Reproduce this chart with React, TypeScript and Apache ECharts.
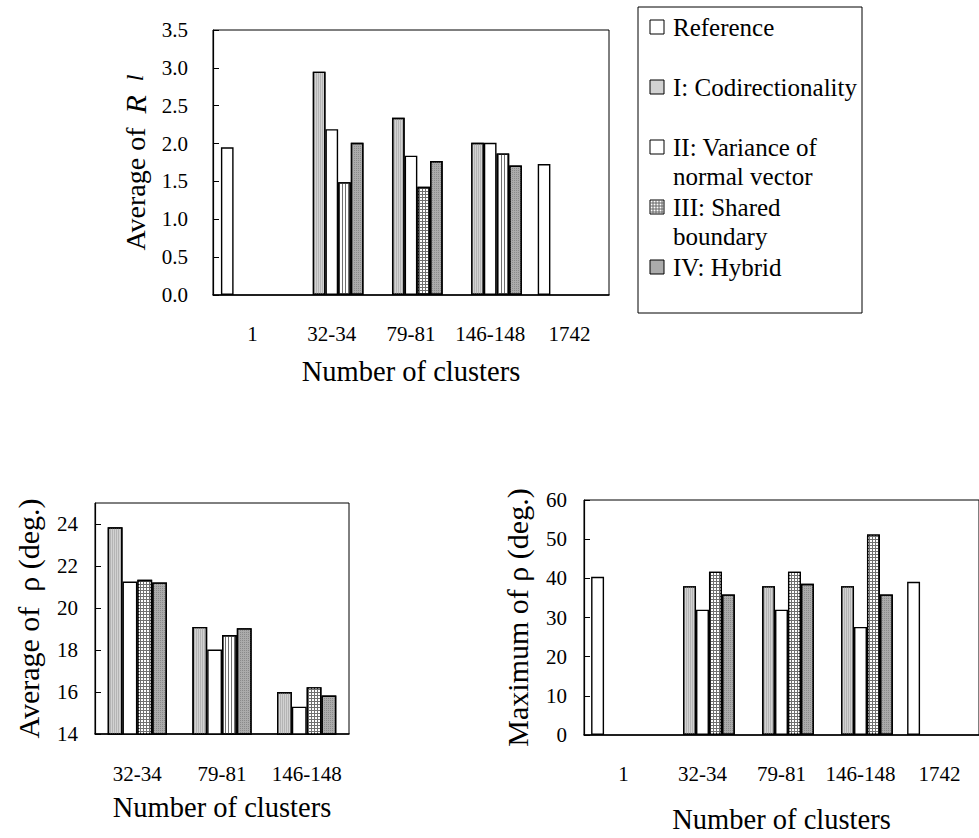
import React, { useEffect, useRef } from "react";
import * as echarts from "echarts";

// ---------- data ----------
const seriesNames = [
  "Reference",
  "I: Codirectionality",
  "II: Variance of normal vector",
  "III: Shared boundary",
  "IV: Hybrid",
];
const legendLines = [
  ["Reference"],
  ["I: Codirectionality"],
  ["II: Variance of", "normal vector"],
  ["III: Shared", "boundary"],
  ["IV: Hybrid"],
];

const clustersAll = ["1", "32-34", "79-81", "146-148", "1742"];
const clustersMid = ["32-34", "79-81", "146-148"];

// Average of R_l
const r1Reference = [1.95, null, null, null, 1.73];
const r1I = [null, 2.95, 2.34, 2.01, null];
const r1II = [null, 2.19, 1.84, 2.01, null];
const r1III = [null, 1.49, 1.43, 1.87, null];
const r1IV = [null, 2.01, 1.77, 1.71, null];
const r1Ticks = { min: 0, max: 3.5, interval: 0.5 };

// Average of rho
const avgI = [23.84, 19.1, 16.0];
const avgII = [21.26, 18.02, 15.3];
const avgIII = [21.34, 18.71, 16.23];
const avgIV = [21.22, 19.04, 15.83];
const avgTicks = { min: 14, max: 25, interval: 2 };

// Maximum of rho
const maxReference = [40.4, null, null, null, 39.1];
const maxI = [null, 38, 38, 38, null];
const maxII = [null, 32, 32, 27.6, null];
const maxIII = [null, 41.7, 41.7, 51.2, null];
const maxIV = [null, 35.9, 38.6, 35.9, null];
const maxTicks = { min: 0, max: 60, interval: 10 };

// hatch style per bar of series III (style only)
const r1IIIPattern = ["", "lines", "grid", "lines", ""];
const avgIIIPattern = ["grid", "lines", "grid"];
const maxIIIPattern = ["", "grid", "grid", "grid", ""];

// ---------- styles ----------
const FONT = '"Liberation Serif", "Times New Roman", serif';

const decalGrid = {
  symbol: "rect",
  symbolSize: 1,
  dashArrayX: [2, 1],
  dashArrayY: [2, 1],
  color: "#ffffff",
};
const decalLines = {
  symbol: "rect",
  symbolSize: 1,
  dashArrayX: [1, 2],
  dashArrayY: [2, 0],
  color: "#707070",
};
const decalI = {
  symbol: "rect",
  symbolSize: 1,
  dashArrayX: [1, 1],
  dashArrayY: [2, 0],
  color: "#b4b4b4",
};
const decalIV = {
  symbol: "rect",
  symbolSize: 1,
  dashArrayX: [1, 1],
  dashArrayY: [1, 1],
  color: "#8a8a8a",
};

const border = { borderColor: "#000", borderWidth: 1.4 };
const styleRef = { color: "#ffffff", ...border };
const styleI = { color: "#d2d2d2", decal: decalI, ...border };
const styleII = { color: "#ffffff", ...border };
const styleIV = { color: "#ababab", decal: decalIV, ...border };

function patternStyle(p: string) {
  if (p === "grid") return { color: "#707070", decal: decalGrid, ...border };
  return { color: "#ffffff", decal: decalLines, ...border };
}

function withPattern(values: (number | null)[], patterns: string[]) {
  return values.map((v, i) =>
    v === null ? null : { value: v, itemStyle: patternStyle(patterns[i]) }
  );
}

function xAxisFor(grid: number, cats: string[], nameGap: number, margin: number) {
  return {
    type: "category",
    gridIndex: grid,
    data: cats,
    name: "Number of clusters",
    nameLocation: "middle",
    nameGap,
    nameTextStyle: { fontFamily: FONT, fontSize: 28.5, color: "#000" },
    axisLine: { lineStyle: { color: "#000", width: 1.5 } },
    axisTick: { inside: true, length: 7, lineStyle: { color: "#000" } },
    axisLabel: { fontFamily: FONT, fontSize: 21, color: "#000", margin, interval: 0 },
    splitLine: { show: false },
  };
}

function yAxisFor(
  grid: number,
  ticks: { min: number; max: number; interval: number },
  name: string,
  nameGap: number,
  margin: number,
  fmt: (v: number) => string,
  fontSize: number,
  rich?: any
) {
  return {
    type: "value",
    gridIndex: grid,
    min: ticks.min,
    max: ticks.max,
    interval: ticks.interval,
    name,
    nameLocation: "middle",
    nameGap,
    nameRotate: 90,
    nameTextStyle: { fontFamily: FONT, fontSize, color: "#000", rich },
    axisLine: { show: true, lineStyle: { color: "#000", width: 1.2 } },
    axisTick: { show: true, inside: true, length: 6, lineStyle: { color: "#000" } },
    axisLabel: {
      fontFamily: FONT,
      fontSize: 21,
      color: "#000",
      margin,
      showMaxLabel: ticks.max % ticks.interval === 0,
      formatter: fmt,
    },
    splitLine: { show: false },
  };
}

function bar(name: string, xi: number, data: any[], itemStyle: any, gap: string) {
  return {
    type: "bar",
    name,
    xAxisIndex: xi,
    yAxisIndex: xi,
    data,
    itemStyle,
    barGap: "0%",
    barCategoryGap: gap,
    emphasis: { disabled: true },
  };
}

function legendGraphic() {
  const boxX = 638;
  const boxY = 7;
  const markerX = 650;
  const textX = 673;
  const size = 14;
  const lineH = 29;
  const children: any[] = [
    {
      type: "rect",
      shape: { x: boxX, y: boxY, width: 224, height: 306 },
      style: { fill: "#fff", stroke: "#000", lineWidth: 1 },
    },
  ];
  const fills = ["#ffffff", "#d2d2d2", "#ffffff", "#ffffff", "#ababab"];
  seriesNames.forEach((_, i) => {
    const cy = 27 + 60 * i;
    const my = cy - size / 2;
    children.push({
      type: "rect",
      shape: { x: markerX, y: my, width: size, height: size },
      style: { fill: fills[i], stroke: "#000", lineWidth: 1 },
    });
    if (i === 3) {
      for (let k = 3; k < size; k += 3) {
        children.push({
          type: "line",
          shape: { x1: markerX + k, y1: my, x2: markerX + k, y2: my + size },
          style: { stroke: "#666", lineWidth: 1 },
        });
        children.push({
          type: "line",
          shape: { x1: markerX, y1: my + k, x2: markerX + size, y2: my + k },
          style: { stroke: "#666", lineWidth: 1 },
        });
      }
    }
    legendLines[i].forEach((line, j) => {
      children.push({
        type: "text",
        style: {
          text: line,
          x: textX,
          y: cy + j * lineH,
          fontFamily: FONT,
          fontSize: 25,
          fill: "#000",
          verticalAlign: "middle",
          align: "left",
        },
      });
    });
  });
  return [{ type: "group", children }];
}

export default function App() {
  const ref = useRef<HTMLDivElement>(null);
  useEffect(() => {
    document.body.style.margin = "0";
    if (!ref.current) return;
    const chart = echarts.init(ref.current, null, { renderer: "svg" });
    const option: any = {
      animation: false,
      backgroundColor: "#fff",
      textStyle: { fontFamily: FONT },
      grid: [
        { left: 213, top: 30, width: 396, height: 265, show: true, borderColor: "#000", borderWidth: 1 },
        { left: 95, top: 503, width: 254, height: 231, show: true, borderColor: "#000", borderWidth: 1 },
        { left: 584, top: 500, width: 399, height: 235, show: true, borderColor: "#000", borderWidth: 1 },
      ],
      xAxis: [
        xAxisFor(0, clustersAll, 62, 28),
        xAxisFor(1, clustersMid, 59, 29),
        xAxisFor(2, clustersAll, 70, 28),
      ],
      yAxis: [
        yAxisFor(0, r1Ticks, "Average of  {i|R}{g| }{s|l}", 63, 25, (v) => v.toFixed(1), 28, {
          i: { fontFamily: FONT, fontSize: 30, fontStyle: "italic", color: "#000" },
          g: { fontFamily: FONT, fontSize: 20, width: 14 },
          s: { fontFamily: FONT, fontSize: 24, fontStyle: "italic", color: "#000" },
        }),
        yAxisFor(1, avgTicks, "Average of  ρ (deg.)", 52, 17, (v) => String(v), 30),
        yAxisFor(2, maxTicks, "Maximum of ρ (deg.)", 52, 17, (v) => String(v), 30),
      ],
      series: [
        bar(seriesNames[0], 0, r1Reference, styleRef, "20%"),
        bar(seriesNames[1], 0, r1I, styleI, "20%"),
        bar(seriesNames[2], 0, r1II, styleII, "20%"),
        bar(seriesNames[3], 0, withPattern(r1III, r1IIIPattern), { ...border }, "20%"),
        bar(seriesNames[4], 0, r1IV, styleIV, "20%"),

        bar(seriesNames[1], 1, avgI, styleI, "30%"),
        bar(seriesNames[2], 1, avgII, styleII, "30%"),
        bar(seriesNames[3], 1, withPattern(avgIII, avgIIIPattern), { ...border }, "30%"),
        bar(seriesNames[4], 1, avgIV, styleIV, "30%"),

        bar(seriesNames[0], 2, maxReference, styleRef, "18%"),
        bar(seriesNames[1], 2, maxI, styleI, "18%"),
        bar(seriesNames[2], 2, maxII, styleII, "18%"),
        bar(seriesNames[3], 2, withPattern(maxIII, maxIIIPattern), { ...border }, "18%"),
        bar(seriesNames[4], 2, maxIV, styleIV, "18%"),
      ],
      graphic: legendGraphic(),
    };
    chart.setOption(option);
    return () => chart.dispose();
  }, []);
  return <div ref={ref} style={{ width: 979, height: 838 }} />;
}
